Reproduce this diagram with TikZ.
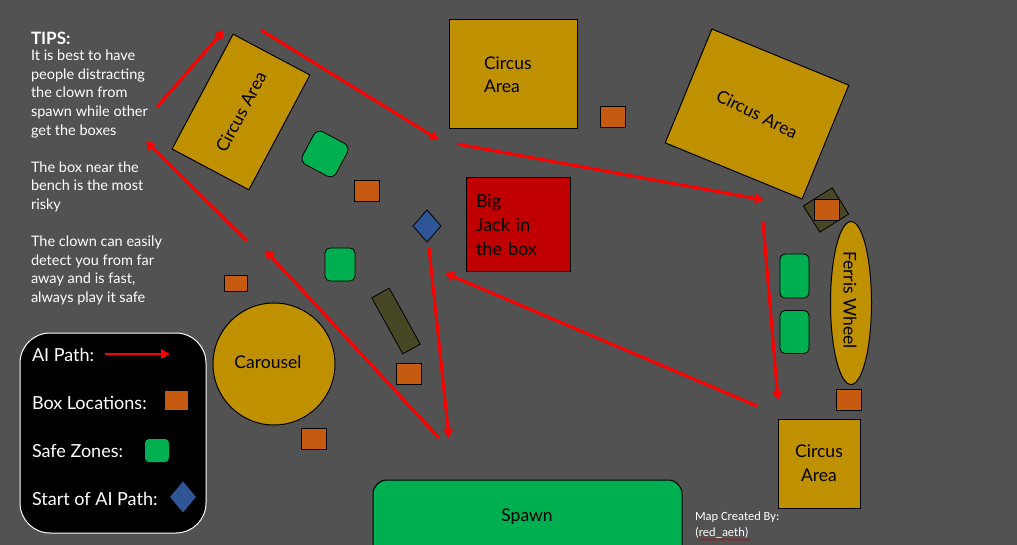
\documentclass[tikz,border=0pt]{standalone}
\usepackage{fontspec}
\setmainfont{Lato}
\newfontfamily\capfont{Carlito}
\usetikzlibrary{arrows.meta,shapes.geometric,decorations.pathmorphing}
\definecolor{bgc}{HTML}{525252}
\definecolor{gold}{HTML}{BF9000}
\definecolor{boxc}{HTML}{C55A11}
\definecolor{safec}{HTML}{00B050}
\definecolor{startc}{HTML}{2F5597}
\definecolor{benchc}{HTML}{474726}
\definecolor{jackc}{HTML}{C00000}
\tikzset{
  every node/.style={inner sep=0pt,outer sep=0pt},
  area/.style={draw=black,line width=1pt,fill=gold,text=black,font=\fontsize{17.5}{24}\selectfont,align=center},
  boxloc/.style={draw=black,line width=1pt,fill=boxc,minimum width=25pt,minimum height=21pt},
  safe/.style={draw=black,line width=0.8pt,fill=safec,rounded corners=5pt},
  bench/.style={draw=black,line width=0.8pt,fill=benchc},
  startd/.style={diamond,aspect=0.875,fill=startc},
  ai/.style={red,line width=3pt,-{Triangle[length=9pt,width=10pt]}},
  tip/.style={text=white,anchor=west,align=left,font=\fontsize{14.5}{18.6}\selectfont},
  leg/.style={text=white,anchor=west,font=\fontsize{18}{20}\selectfont},
}
\begin{document}
\begin{tikzpicture}[x=1pt,y=-1pt]
\useasboundingbox (0,0) rectangle (1017,545);
\fill[bgc] (0,0) rectangle (1017,545);
\begin{scope}
\clip (0,0) rectangle (1017,545);
\node[draw=black,line width=1pt,fill=safec,rounded corners=14pt,minimum width=309pt,minimum height=110pt,font=\fontsize{17.5}{20}\selectfont] (spawn) at (527.5,535) {};
\end{scope}
\node[font=\fontsize{17.5}{20}\selectfont] (spawnt) at (527,517) {Spawn};
% circus areas
\node[area,rotate=62,minimum width=130pt,minimum height=87pt] (ca1) at (241,112) {Circus Area};
\node[area,minimum width=128pt,minimum height=109pt,align=left,text width=128pt] (ca2) at (513,74.5) {\hspace*{35pt}Circus\\[-0.5pt]\hspace*{35pt}Area};
\node[area,rotate=-22.3,minimum width=148pt,minimum height=123pt] (ca3) at (757,114) {\rotatebox{-4}{Circus Area}};
\node[area,minimum width=82pt,minimum height=89pt] (ca4) at (819,463.5) {Circus\\Area};
\node[area,circle,minimum size=122pt] (car) at (274,364) {};
\node[font=\fontsize{17.5}{20}\selectfont] (cart) at (268,362) {Carousel};
\node[area,ellipse,minimum width=41pt,minimum height=163pt] (fw) at (851,303) {};
\node[font=\fontsize{17.5}{20}\selectfont,rotate=-90] (fwt) at (850,300) {Ferris Wheel};
% jack
\node[draw=black,line width=1pt,fill=jackc,minimum width=104pt,minimum height=94pt,text width=84pt,align=left,font=\fontsize{18}{24}\selectfont] (jack) at (518,225) {\hspace*{0pt}Big\\Jack in\\the box};
% benches
\node[bench,rotate=29,minimum width=20pt,minimum height=64pt] (bench1) at (396,321) {};
\node[bench,rotate=32,minimum width=34pt,minimum height=31pt] (bench2) at (826,210) {};
% boxes
\node[boxloc] (b1) at (612.5,117.5) {};
\node[boxloc] (b2) at (366.5,191) {};
\node[boxloc,minimum width=23pt,minimum height=16pt] (b3) at (235.5,284) {};
\node[boxloc] (b4) at (408.5,374) {};
\node[boxloc] (b5) at (313.5,438.5) {};
\node[boxloc] (b6) at (826.5,210.5) {};
\node[boxloc] (b7) at (848.5,399.5) {};
% safe
\node[safe,minimum width=29pt,minimum height=44pt] (s1) at (794.5,276) {};
\node[safe,minimum width=29pt,minimum height=43pt] (s2) at (794.5,332) {};
\node[safe,minimum width=30pt,minimum height=33pt] (s3) at (340,264.5) {};
\node[safe,rotate=-28,minimum width=38pt,minimum height=37pt,rounded corners=7pt] (s4) at (325,154) {};
% start
\node[startd,draw=black,line width=0.8pt,minimum width=28pt,minimum height=32pt] (st) at (427,226) {};
% AI path
\coordinate (p1a) at (157,107); \coordinate (p1b) at (224,30);
\coordinate (p2a) at (261,30); \coordinate (p2b) at (439,140);
\coordinate (p3a) at (457,144); \coordinate (p3b) at (764,200);
\coordinate (p4a) at (763,222); \coordinate (p4b) at (778,400);
\coordinate (p5a) at (757,406); \coordinate (p5b) at (445,273);
\coordinate (p6a) at (429,248); \coordinate (p6b) at (449,438);
\coordinate (p7a) at (439,438); \coordinate (p7b) at (265,250);
\coordinate (p8a) at (247,241); \coordinate (p8b) at (146,141);
\draw[ai] (p1a) -- (p1b);
\draw[ai] (p2a) -- (p2b);
\draw[ai] (p3a) -- (p3b);
\draw[ai] (p4a) -- (p4b);
\draw[ai] (p5a) -- (p5b);
\draw[ai] (p6a) -- (p6b);
\draw[ai] (p7a) -- (p7b);
\draw[ai] (p8a) -- (p8b);
% tips
\node[tip,font=\bfseries\fontsize{17}{20}\selectfont] (tips) at (31,38) {TIPS:};
\node[tip,anchor=north west] (tipt) at (31,50) {It is best to have\\people distracting\\the clown from\\spawn while other\\get the boxes\\[18.6pt]The box near the\\bench is the most\\risky\\[18.6pt]The clown can easily\\detect you from far\\away and is fast,\\always play it safe};
% legend
\node[draw=white,line width=1pt,fill=black,rounded corners=30pt,minimum width=186pt,minimum height=200pt] (legend) at (113,433) {};
\node[leg] (l1) at (32,355) {AI Path:};
\coordinate (la) at (105,354); \coordinate (lb) at (170,354);
\draw[red,line width=2pt,-{Triangle[length=9pt,width=9pt]}] (la) -- (lb);
\node[leg] (l2) at (32,403) {Box Locations:};
\node[fill=boxc,minimum width=23pt,minimum height=19pt] (lbox) at (176.5,400.5) {};
\node[leg] (l3) at (32,451) {Safe Zones:};
\node[fill=safec,rounded corners=4pt,minimum width=24pt,minimum height=23pt] (lsafe) at (157,450.5) {};
\node[leg] (l4) at (32,499) {Start of AI Path:};
\node[startd,minimum width=26pt,minimum height=31pt] (lst) at (183,497) {};
% credit
\node[text=white,anchor=west,font=\capfont\fontsize{12.5}{16}\selectfont] (c1) at (695,517) {Map Created By:};
\node[text=white,anchor=west,font=\capfont\fontsize{12.5}{16}\selectfont] (c2) at (695,533) {(red\_aeth)};
\coordinate (wa) at (699,539.5); \coordinate (wb) at (751,539.5);
\draw[red!80!black,line width=0.6pt,decorate,decoration={snake,amplitude=0.8pt,segment length=3pt}] (wa) -- (wb);
\end{tikzpicture}
\end{document}
